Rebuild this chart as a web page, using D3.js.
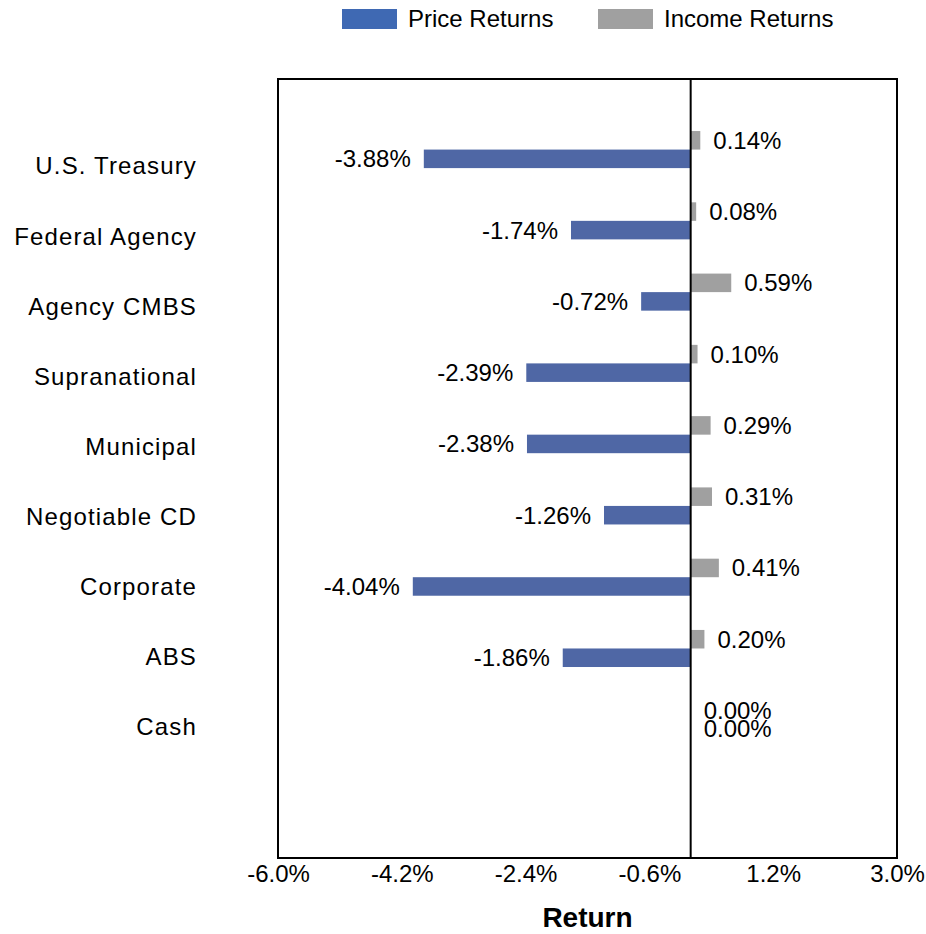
<!DOCTYPE html>
<html>
<head>
<meta charset="utf-8">
<script src="https://cdn.jsdelivr.net/npm/d3@7"></script>
<style>
  html, body { margin: 0; padding: 0; background: #fff; }
  text { font-family: "Liberation Sans", Arial, sans-serif; fill: #000; }
</style>
</head>
<body>
<svg id="chart" width="926" height="934"></svg>
<script>
const categories = ["U.S. Treasury", "Federal Agency", "Agency CMBS", "Supranational", "Municipal", "Negotiable CD", "Corporate", "ABS", "Cash"];
const priceReturns = [-3.88, -1.74, -0.72, -2.39, -2.38, -1.26, -4.04, -1.86, 0.00];
const incomeReturns = [0.14, 0.08, 0.59, 0.10, 0.29, 0.31, 0.41, 0.20, 0.00];
const xTicks = [-6.0, -4.2, -2.4, -0.6, 1.2, 3.0];
const seriesNames = ["Price Returns", "Income Returns"];
const axisTitle = "Return";

const svg = d3.select("#chart");
const plot = { left: 278, right: 897, top: 79, bottom: 858 };
const barColor = "#4F67A5", legendBlue = "#3F69B3", grey = "#A0A0A0";

const x = d3.scaleLinear().domain([-6, 3]).range([plot.left, plot.right]);
const y = d3.scaleBand().domain(categories).range([plot.top, plot.bottom])
  .paddingInner(0).paddingOuter(0.965).align(0.254);
const yLabel = d3.scalePoint().domain(categories).range([166, 727]);
const barH = y.step() * 0.26;
const center = c => y(c) + y.bandwidth() / 2;

// bars
const gBars = svg.append("g");
gBars.selectAll("rect.inc").data(categories).join("rect")
  .attr("class", "inc")
  .attr("x", (c, i) => x(Math.min(0, incomeReturns[i])))
  .attr("width", (c, i) => Math.abs(x(incomeReturns[i]) - x(0)))
  .attr("y", c => center(c) - barH)
  .attr("height", barH)
  .attr("fill", grey);
gBars.selectAll("rect.price").data(categories).join("rect")
  .attr("class", "price")
  .attr("x", (c, i) => x(Math.min(0, priceReturns[i])))
  .attr("width", (c, i) => Math.abs(x(priceReturns[i]) - x(0)))
  .attr("y", c => center(c))
  .attr("height", barH)
  .attr("fill", barColor);

// plot frame
svg.append("rect")
  .attr("x", plot.left).attr("y", plot.top)
  .attr("width", plot.right - plot.left).attr("height", plot.bottom - plot.top)
  .attr("fill", "none").attr("stroke", "#000").attr("stroke-width", 2);
// zero line
svg.append("line")
  .attr("x1", x(0)).attr("x2", x(0))
  .attr("y1", plot.top).attr("y2", plot.bottom)
  .attr("stroke", "#000").attr("stroke-width", 2);

// data labels
const fmt = v => v.toFixed(2) + "%";
const gap = 13;
function addLabels(vals, dy) {
  svg.append("g").selectAll("text").data(categories).join("text")
    .attr("x", (c, i) => vals[i] < 0 ? x(vals[i]) - gap : x(Math.max(0, vals[i])) + gap)
    .attr("y", c => center(c) + dy)
    .attr("dy", "0.35em")
    .attr("text-anchor", (c, i) => vals[i] < 0 ? "end" : "start")
    .attr("font-size", 24)
    .text((c, i) => fmt(vals[i]));
}
addLabels(incomeReturns, -barH / 2);
addLabels(priceReturns, barH / 2);

// category labels
svg.append("g").selectAll("text").data(categories).join("text")
  .attr("x", 197)
  .attr("y", c => yLabel(c))
  .attr("dy", "0.35em")
  .attr("text-anchor", "end")
  .attr("font-size", 24)
  .attr("letter-spacing", "1.15px")
  .text(c => c);

// x axis
const xAxis = d3.axisBottom(x).tickValues(xTicks).tickSize(0).tickPadding(0)
  .tickFormat(d => d.toFixed(1) + "%");
const gx = svg.append("g").attr("transform", `translate(0,${plot.bottom})`).call(xAxis);
gx.select(".domain").remove();
gx.selectAll("text").attr("font-size", 24).attr("font-family", "Liberation Sans, Arial, sans-serif")
  .attr("fill", "#000").attr("dy", null).attr("y", 24);

// axis title
svg.append("text")
  .attr("x", (plot.left + plot.right) / 2).attr("y", 927)
  .attr("text-anchor", "middle").attr("font-size", 28).attr("font-weight", "bold")
  .text(axisTitle);

// legend
const legendItems = [
  { name: seriesNames[0], color: legendBlue, x: 342 },
  { name: seriesNames[1], color: grey, x: 598 }
];
const gl = svg.append("g");
gl.selectAll("rect").data(legendItems).join("rect")
  .attr("x", d => d.x).attr("y", 9).attr("width", 55).attr("height", 20)
  .attr("fill", d => d.color);
gl.selectAll("text").data(legendItems).join("text")
  .attr("x", d => d.x + 66).attr("y", 19).attr("dy", "0.35em")
  .attr("font-size", 24)
  .text(d => d.name);
</script>
</body>
</html>
